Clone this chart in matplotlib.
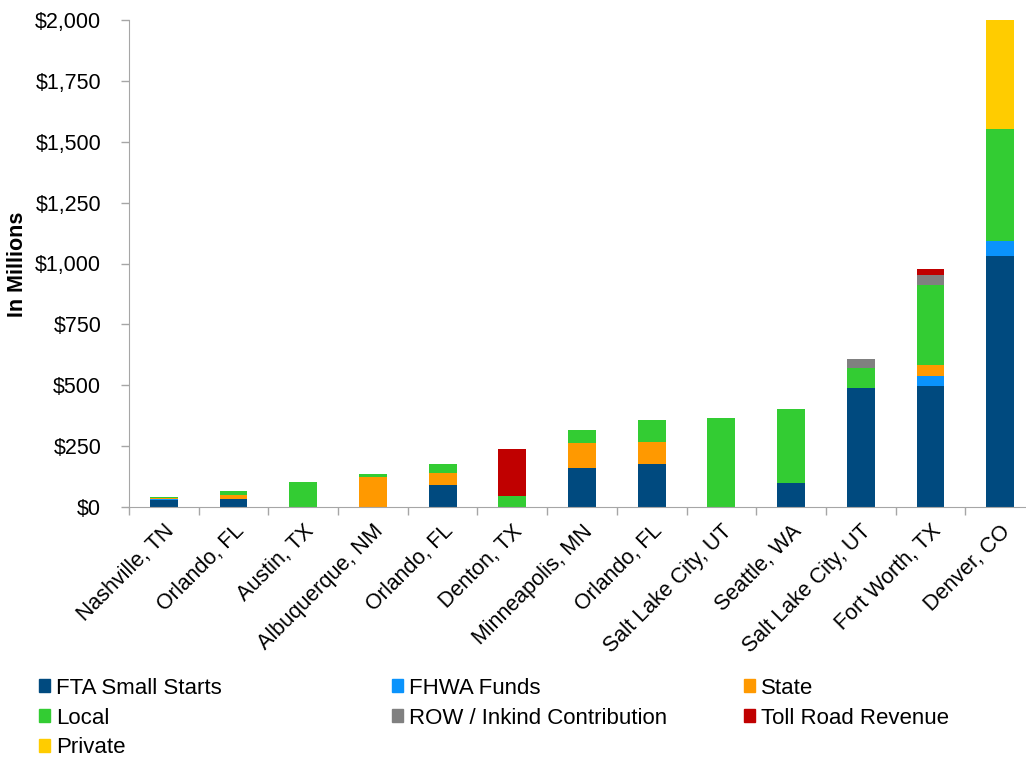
import numpy as np
import matplotlib
matplotlib.use("Agg")
import matplotlib.pyplot as plt
from matplotlib.patches import Patch

plt.rcParams['font.family'] = ['Liberation Sans', 'DejaVu Sans']

cities = ['Nashville, TN', 'Orlando, FL', 'Austin, TX', 'Albuquerque, NM', 'Orlando, FL',
          'Denton, TX', 'Minneapolis, MN', 'Orlando, FL', 'Salt Lake City, UT', 'Seattle, WA',
          'Salt Lake City, UT', 'Fort Worth, TX', 'Denver, CO']

# $ millions per funding source
fta     = [27, 33, 0, 0, 92, 0, 159, 178, 0, 99, 490, 498, 1030]
fhwa    = [5, 0, 0, 0, 0, 0, 0, 0, 0, 0, 0, 41, 61]
state   = [5, 16, 0, 123, 49, 0, 103, 90, 0, 0, 0, 43, 0]
local   = [3, 18, 104, 12, 36, 45, 54, 89, 365, 302, 81, 330, 463]
row     = [0, 0, 0, 0, 0, 0, 0, 0, 0, 0, 38, 40, 0]
toll    = [0, 0, 0, 0, 0, 192, 0, 0, 0, 0, 0, 25, 0]
private = [0, 0, 0, 0, 0, 0, 0, 0, 0, 0, 0, 0, 446]

series = [
    ('FTA Small Starts', fta, '#004A7F'),
    ('FHWA Funds', fhwa, '#0A93FC'),
    ('State', state, '#FF9900'),
    ('Local', local, '#33CC33'),
    ('ROW / Inkind Contribution', row, '#808080'),
    ('Toll Road Revenue', toll, '#C00000'),
    ('Private', private, '#FFCC00'),
]

fig = plt.figure(figsize=(10.26, 7.57), dpi=100)
ax = fig.add_axes([129/1026, 250/757, 906/1026, 487/757])

x = np.arange(len(cities))
bottom = np.zeros(len(cities))
for name, vals, col in series:
    v = np.array(vals, dtype=float)
    ax.bar(x, v, 0.4, bottom=bottom, color=col, label=name)
    bottom += v

ax.set_xlim(-0.5, len(cities) - 0.5)
ax.set_ylim(0, 2000)
ax.set_yticks(np.arange(0, 2001, 250))
ax.set_yticklabels(['${:,}'.format(t) for t in range(0, 2001, 250)], fontsize=15.5)
ax.set_xticks(x)
ax.set_xticklabels(cities, rotation=45, ha='right', rotation_mode='anchor', fontsize=15.5)
ax.tick_params(axis='x', which='major', length=0, pad=10)
ax.set_xticks(np.arange(-0.5, len(cities), 1), minor=True)
ax.tick_params(axis='x', which='minor', length=6, color='#A6A6A6', width=1)
ax.tick_params(axis='y', length=6, color='#A6A6A6', width=1, pad=14)
fig.text(18/1026, 1 - 264/757, 'In Millions', rotation=90, ha='center', va='center',
         fontsize=15.5, fontweight='bold')

for s in ['top', 'right']:
    ax.spines[s].set_visible(False)
for s in ['left', 'bottom']:
    ax.spines[s].set_color('#A6A6A6')

# legend laid out row by row in three fixed columns
handles = [Patch(color=c, label=n) for n, _, c in series]
col_x = [39/1026, 392/1026, 744/1026]
for ci in range(3):
    hs = handles[ci::3]
    fig.legend(handles=hs, loc='upper left', bbox_to_anchor=(col_x[ci], 0.1048),
               frameon=False, fontsize=16, handlelength=0.5, handleheight=0.5,
               handletextpad=0.25, labelspacing=0.4, borderaxespad=0, borderpad=0)

fig.savefig('out.png', dpi=100)
